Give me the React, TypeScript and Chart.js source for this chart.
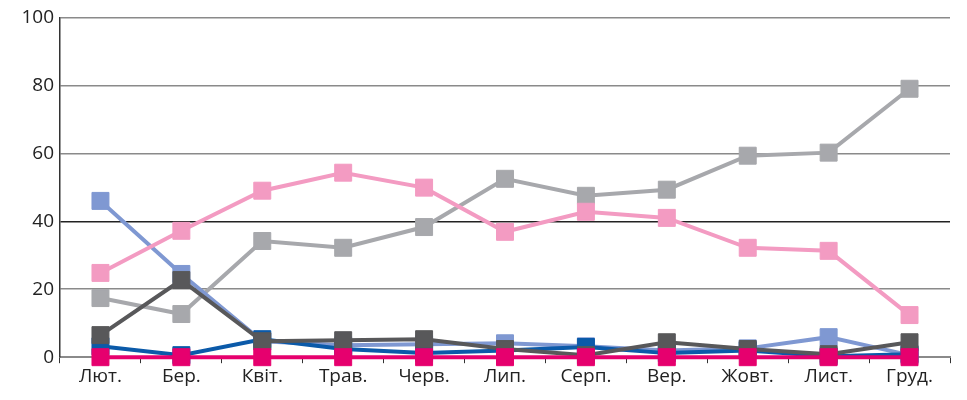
import React, { useEffect, useRef } from "react";
import { Chart, registerables } from "chart.js";

Chart.register(...registerables);

const months = ["Лют.", "Бер.", "Квіт.", "Трав.", "Черв.", "Лип.", "Серп.", "Вер.", "Жовт.", "Лист.", "Груд."];
const yTicks = [0, 20, 40, 60, 80, 100];

const magentaSeries = [0, 0, 0, 0, 0, 0, 0, 0, 0, 0, 0];
const darkGraySeries = [6.5, 22.7, 4.7, 5.0, 5.3, 2.4, 0.6, 4.4, 2.4, 0.9, 4.4];
const pinkSeries = [24.8, 37.2, 49.0, 54.3, 49.9, 36.9, 42.8, 41.0, 32.2, 31.3, 12.4];
const blueSeries = [3.2, 0.6, 5.3, 2.4, 1.2, 2.0, 3.0, 1.2, 2.0, 0.3, 0.9];
const lightBlueSeries = [46.0, 24.5, 4.7, 3.5, 3.8, 4.1, 3.2, 2.0, 2.6, 5.9, 0.6];
const graySeries = [17.4, 12.7, 34.2, 32.2, 38.3, 52.5, 47.5, 49.3, 59.3, 60.2, 79.0];

function ds(data: number[], color: string) {
  return {
    data,
    borderColor: color,
    backgroundColor: color,
    pointBackgroundColor: color,
    pointBorderColor: color,
    borderWidth: 4,
    pointStyle: "rect" as const,
    pointRadius: 12,
    pointBorderWidth: 1,
    tension: 0,
    clip: false as const,
  };
}

export default function App() {
  const ref = useRef<HTMLCanvasElement | null>(null);
  useEffect(() => {
    document.body.style.margin = "0";
    const ctx = ref.current!;
    const chart = new Chart(ctx, {
      type: "line",
      data: {
        labels: months,
        datasets: [
          ds(magentaSeries, "#e6006e"),
          ds(darkGraySeries, "#58585a"),
          ds(pinkSeries, "#f39bc2"),
          ds(blueSeries, "#0b5aa9"),
          ds(lightBlueSeries, "#7f98d2"),
          ds(graySeries, "#a7a8ac"),
        ],
      },
      options: {
        animation: false,
        responsive: false,
        maintainAspectRatio: false,
        layout: { padding: { top: 17, right: 17, bottom: 10, left: 2 } },
        plugins: { legend: { display: false }, tooltip: { enabled: false } },
        scales: {
          x: {
            offset: true,
            grid: {
              offset: true,
              drawOnChartArea: false,
              drawTicks: true,
              tickLength: 6,
              color: "#333",
            },
            border: { color: "#8a8a8a", width: 2 },
            ticks: {
              color: "#222",
              font: { family: "Open Sans", size: 19 },
              padding: 2,
              maxRotation: 0,
              autoSkip: false,
            },
          },
          y: {
            min: 0,
            max: 100,
            afterFit: (s: any) => { s.width = 58; },
            afterBuildTicks: (s: any) => { s.ticks = yTicks.map((v) => ({ value: v })); },
            grid: {
              drawTicks: false,
              color: (c: any) => (c.tick && c.tick.value === 40 ? "#222" : "#8a8a8a"),
              lineWidth: 1.5,
            },
            border: { color: "#333", width: 1.5 },
            ticks: {
              color: "#222",
              font: { family: "Open Sans", size: 19 },
              padding: 6,
            },
          },
        },
      },
    });
    return () => chart.destroy();
  }, []);
  return <canvas ref={ref} width={967} height={400} style={{ display: "block" }} />;
}
